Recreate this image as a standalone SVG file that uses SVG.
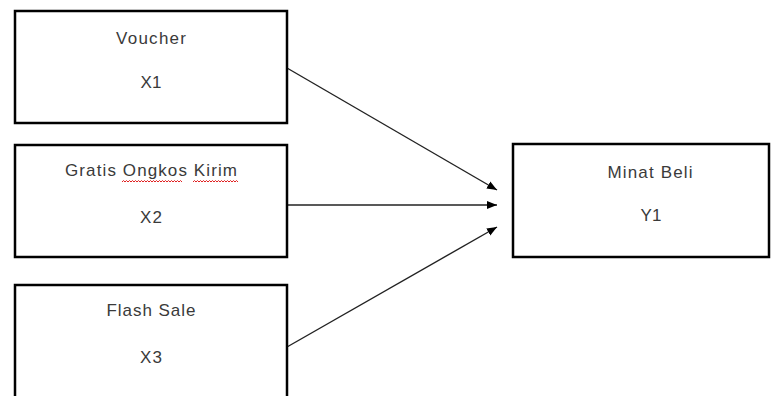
<svg xmlns="http://www.w3.org/2000/svg" width="771" height="396" viewBox="0 0 771 396">
<style>
.box{fill:#fff;stroke:#000;stroke-width:2.5}
.t{font-family:"Liberation Sans",Arial,sans-serif;font-size:17px;fill:#3a3a3a;text-anchor:middle}
.c{stroke:#222;stroke-width:1.4;fill:none;marker-end:url(#ah)}
.sq{stroke:#e02020;stroke-width:1;fill:none}
</style>
<defs>
<marker id="ah" viewBox="0 0 10 10" refX="10" refY="5" markerWidth="10" markerHeight="10" markerUnits="userSpaceOnUse" orient="auto">
<path d="M0,1 L10,5 L0,9 Z" fill="#000"/>
</marker>
</defs>
<rect width="771" height="396" fill="#fff"/>
<g id="connectors">
<line class="c" x1="287" y1="68" x2="497" y2="190"/>
<line class="c" x1="287" y1="205" x2="497" y2="205"/>
<line class="c" x1="287" y1="347" x2="497" y2="227"/>
</g>
<g id="x1">
<rect class="box" x="15" y="11" width="272" height="112"/>
<text class="t" x="151" y="44" textLength="70" lengthAdjust="spacing">Voucher</text>
<text class="t" x="151" y="88" textLength="21" lengthAdjust="spacing">X1</text>
</g>
<g id="x2">
<rect class="box" x="15" y="145" width="272" height="112"/>
<text class="t" x="151" y="176" textLength="172" lengthAdjust="spacing">Gratis Ongkos Kirim</text>
<path class="sq" d="M122,182 l1.5,-1.5 l1.5,1.5 l1.5,-1.5 l1.5,1.5 l1.5,-1.5 l1.5,1.5 l1.5,-1.5 l1.5,1.5 l1.5,-1.5 l1.5,1.5 l1.5,-1.5 l1.5,1.5 l1.5,-1.5 l1.5,1.5 l1.5,-1.5 l1.5,1.5 l1.5,-1.5 l1.5,1.5 l1.5,-1.5 l1.5,1.5 l1.5,-1.5 l1.5,1.5 l1.5,-1.5 l1.5,1.5 l1.5,-1.5 l1.5,1.5 l1.5,-1.5 l1.5,1.5 l1.5,-1.5 l1.5,1.5 l1.5,-1.5 l1.5,1.5 l1.5,-1.5 l1.5,1.5 l1.5,-1.5 l1.5,1.5 l1.5,-1.5 l1.5,1.5 l1.5,-1.5 l1.5,1.5"/>
<path class="sq" d="M193,182 l1.5,-1.5 l1.5,1.5 l1.5,-1.5 l1.5,1.5 l1.5,-1.5 l1.5,1.5 l1.5,-1.5 l1.5,1.5 l1.5,-1.5 l1.5,1.5 l1.5,-1.5 l1.5,1.5 l1.5,-1.5 l1.5,1.5 l1.5,-1.5 l1.5,1.5 l1.5,-1.5 l1.5,1.5 l1.5,-1.5 l1.5,1.5 l1.5,-1.5 l1.5,1.5 l1.5,-1.5 l1.5,1.5 l1.5,-1.5 l1.5,1.5 l1.5,-1.5 l1.5,1.5 l1.5,-1.5 l1.5,1.5"/>
<text class="t" x="151" y="223" textLength="22" lengthAdjust="spacing">X2</text>
</g>
<g id="x3">
<rect class="box" x="15" y="285" width="272" height="120"/>
<text class="t" x="151" y="316" textLength="89" lengthAdjust="spacing">Flash Sale</text>
<text class="t" x="151" y="363" textLength="22" lengthAdjust="spacing">X3</text>
</g>
<g id="y1">
<rect class="box" x="513" y="144" width="256" height="113"/>
<text class="t" x="650" y="178" textLength="85" lengthAdjust="spacing">Minat Beli</text>
<text class="t" x="651" y="221" textLength="21" lengthAdjust="spacing">Y1</text>
</g>
</svg>
